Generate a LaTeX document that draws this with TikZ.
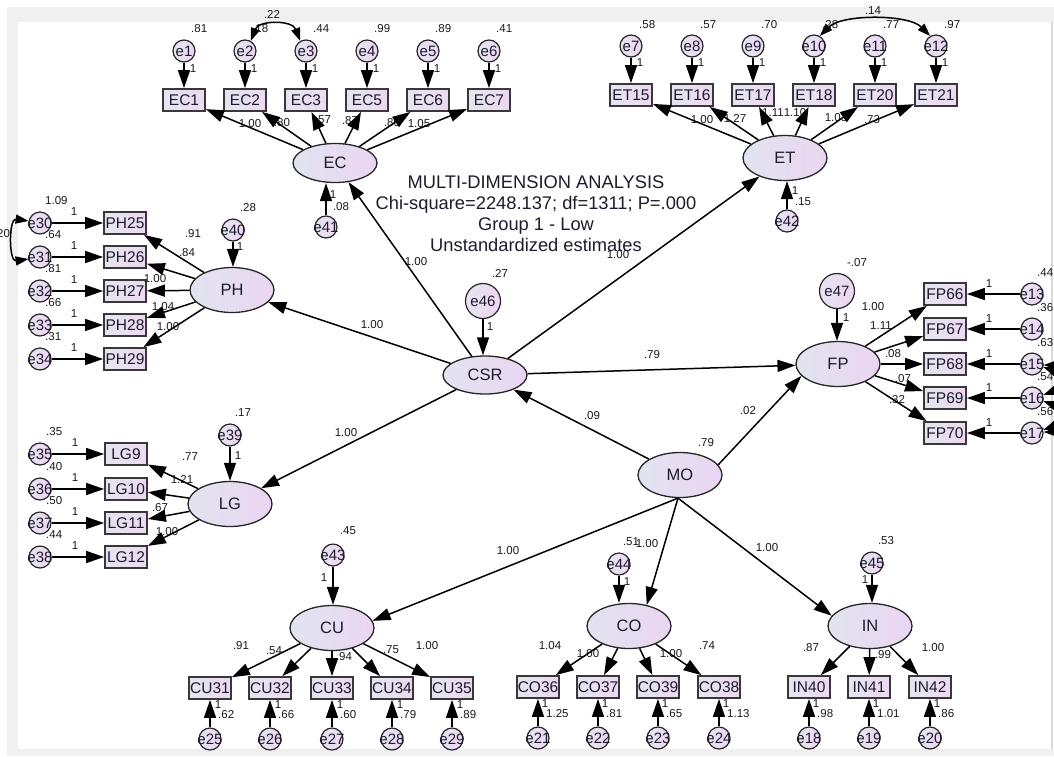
\documentclass[tikz,border=0pt]{standalone}
\usepackage{fontspec}
\setmainfont{Liberation Sans}
\usetikzlibrary{arrows.meta,shapes.geometric}
\definecolor{bandgray}{HTML}{F0F0F0}
\definecolor{latL}{HTML}{E1E4F0}
\definecolor{latR}{HTML}{EBD5F2}
\definecolor{boxL}{HTML}{E4E5F0}
\definecolor{boxR}{HTML}{EDD9F1}
\definecolor{errL}{HTML}{E6E4F2}
\definecolor{errR}{HTML}{EDD6F2}
\definecolor{ink}{HTML}{1C1C2C}
\tikzset{
  latent/.style={ellipse, draw=black!85, line width=1.3pt, left color=latL, right color=latR,
    minimum width=84pt, minimum height=45pt, inner sep=0pt, text=ink, font=\fontsize{16.5}{18}\selectfont},
  obs/.style={rectangle, draw=black!78, line width=1.8pt, left color=boxL, right color=boxR,
    minimum width=42pt, minimum height=22pt, inner sep=0pt, text=ink, font=\fontsize{15.5}{16}\selectfont},
  err/.style={circle, draw=black!85, line width=1.2pt, left color=errL, right color=errR,
    minimum size=22pt, inner sep=0pt, text=ink, font=\fontsize{15}{16}\selectfont},
  bigerr/.style={err, minimum size=35pt},
  num/.style={inner sep=0pt, text=black!90, font=\fontsize{11.5}{12}\selectfont},
  ttlstyle/.style={align=center, inner sep=0pt, text=ink, font=\fontsize{18.3}{21}\selectfont},
  reg/.style={draw=black, line width=1.5pt, -{Triangle[length=18pt,width=12pt]}},
  cov/.style={draw=black, line width=1.5pt, {Triangle[length=13pt,width=9pt]}-{Triangle[length=13pt,width=9pt]}},
}
\begin{document}
\begin{tikzpicture}[x=1pt,y=-1pt]
\useasboundingbox (0,0) rectangle (1054,756);
% window frame
\fill[bandgray] (7,7) rectangle (1054,22);
\fill[bandgray] (7,7) rectangle (18,749);
\fill[bandgray] (7,749) rectangle (1054,756);
\draw[black!15, line width=1.5pt] (1052,22) -- (1052,749);

% heading
\node[ttlstyle] (heading) at (536,213.5) {MULTI-DIMENSION ANALYSIS\\Chi-square=2248.137; df=1311; P=.000\\Group 1 - Low\\Unstandardized estimates};

% latent variables
\node[latent, minimum height=39pt] (EC) at (335,163) {EC};
\node[latent] (ET) at (785,158) {ET};
\node[latent] (PH) at (232,290) {PH};
\node[latent] (LG) at (230,504) {LG};
\node[latent, minimum height=38pt] (CSR) at (485,375) {CSR};
\node[latent] (FP) at (838,364) {FP};
\node[latent] (MO) at (680,475) {MO};
\node[latent] (CU) at (332,628) {CU};
\node[latent] (CO) at (629,626) {CO};
\node[latent] (IN) at (870,626) {IN};

% EC indicators
\foreach \k/\nm/\xx/\vv in {1/EC1/184/.81, 2/EC2/245/.18, 3/EC3/306/.44, 4/EC5/367/.99, 5/EC6/428/.89, 6/EC7/489/.41}{
  \node[num, anchor=west] (ve\k) at (\xx+7,29) {\vv};
  \node[num] (fe\k) at (\xx+9,69) {1};
  \node[err] (e\k) at (\xx,51) {\makebox[0pt]{e\k}};
  \node[obs] (\nm) at (\xx,100) {\nm};
  \draw[reg] (e\k) -- (\nm);
}
\foreach \xx/\yy/\tt [count=\i] in {250/124/1.00, 282/123/.80, 323/120/.57, 350/121/.87, 392/123/.80, 419/124/1.05}{
  \node[num] (lec\i) at (\xx,\yy) {\tt};
}
\foreach \nm in {EC1,EC2,EC3,EC5,EC6,EC7}{\draw[reg] (EC) -- (\nm);}

% ET indicators
\foreach \k/\nm/\xx/\vv in {7/ET15/631/.58, 8/ET16/692/.57, 9/ET17/753/.70, 10/ET18/814/.28, 11/ET20/875/.77, 12/ET21/936/.97}{
  \node[num, anchor=west] (ve\k) at (\xx+8,25) {\vv};
  \node[num] (fe\k) at (\xx+9,63) {1};
  \node[err] (e\k) at (\xx,46) {\makebox[0pt]{e\k}};
  \node[obs] (\nm) at (\xx,95) {\nm};
  \draw[reg] (e\k) -- (\nm);
}
\foreach \xx/\yy/\tt [count=\i] in {702/120/1.00, 735/118/1.27, 773/113/1.11, 795/113/1.10, 836/118/1.03, 872/120/.73}{
  \node[num] (let\i) at (\xx,\yy) {\tt};
}
\foreach \nm in {ET15,ET16,ET17,ET18,ET20,ET21}{\draw[reg] (ET) -- (\nm);}

% PH indicators
\foreach \k/\nm/\yy/\vv in {30/PH25/223/1.09, 31/PH26/257/.64, 32/PH27/291/.81, 33/PH28/325/.66, 34/PH29/359/.31}{
  \node[num, anchor=west] (ve\k) at (45,\yy-22) {\vv};
  \node[num] (fe\k) at (74,\yy-11) {1};
  \node[err] (e\k) at (40,\yy) {\makebox[0pt]{e\k}};
  \node[obs] (\nm) at (125,\yy) {\nm};
  \draw[reg] (e\k) -- (\nm);
}
\foreach \xx/\yy/\tt [count=\i] in {193/234/.91, 187/253/.84, 155/279/1.00, 163/307/1.04, 168/327/1.00}{
  \node[num] (lph\i) at (\xx,\yy) {\tt};
}
\foreach \nm in {PH25,PH26,PH27,PH28,PH29}{\draw[reg] (PH) -- (\nm);}

% LG indicators
\foreach \k/\nm/\yy/\vv in {35/LG9/454/.35, 36/LG10/489/.40, 37/LG11/523/.50, 38/LG12/557/.44}{
  \node[num, anchor=west] (ve\k) at (46,\yy-22) {\vv};
  \node[num] (fe\k) at (75,\yy-11) {1};
  \node[err] (e\k) at (40,\yy) {\makebox[0pt]{e\k}};
  \node[obs] (\nm) at (126,\yy) {\nm};
  \draw[reg] (e\k) -- (\nm);
}
\foreach \xx/\yy/\tt [count=\i] in {190/457/.77, 182/479/1.21, 160/508/.67, 167/532/1.00}{
  \node[num] (llg\i) at (\xx,\yy) {\tt};
}
\foreach \nm in {LG9,LG10,LG11,LG12}{\draw[reg] (LG) -- (\nm);}

% FP indicators
\foreach \k/\nm/\yy/\vv in {13/FP66/294/.44, 14/FP67/329/.36, 15/FP68/364/.63, 16/FP69/398/.54, 17/FP70/433/.56}{
  \node[num, anchor=west] (ve\k) at (1037,\yy-21) {\vv};
  \node[num] (fe\k) at (989,\yy-10) {1};
  \node[err] (e\k) at (1032,\yy) {\makebox[0pt]{e\k}};
  \node[obs] (\nm) at (945,\yy) {\nm};
  \draw[reg] (e\k) -- (\nm);
}
\foreach \xx/\yy/\tt [count=\i] in {873/307/1.00, 881/326/1.11, 893/354/.08, 903/379/.07, 897/400/.32}{
  \node[num] (lfp\i) at (\xx,\yy) {\tt};
}
\foreach \nm in {FP66,FP67,FP68,FP69,FP70}{\draw[reg] (FP) -- (\nm);}

% CU indicators
\foreach \k/\nm/\xx/\vv in {25/CU31/210/.62, 26/CU32/270/.66, 27/CU33/332/.60, 28/CU34/392/.79, 29/CU35/452/.89}{
  \node[num] (fe\k) at (\xx+8,705) {1};
  \node[num, anchor=west] (ve\k) at (\xx+8,715) {\vv};
  \node[obs] (\nm) at (\xx,688) {\nm};
  \node[err] (e\k) at (\xx,739) {\makebox[0pt]{e\k}};
  \draw[reg] (e\k) -- (\nm);
}
\foreach \xx/\yy/\tt [count=\i] in {241/646/.91, 274/651/.54, 344/657/.94, 391/650/.75, 427/646/1.00}{
  \node[num] (lcu\i) at (\xx,\yy) {\tt};
}
\foreach \nm in {CU31,CU32,CU33,CU34,CU35}{\draw[reg] (CU) -- (\nm);}

% CO indicators
\foreach \k/\nm/\xx/\vv in {21/CO36/538/1.25, 22/CO37/598/.81, 23/CO39/658/.65, 24/CO38/719/1.13}{
  \node[num] (fe\k) at (\xx+7,704) {1};
  \node[num, anchor=west] (ve\k) at (\xx+8,714) {\vv};
  \node[obs] (\nm) at (\xx,687) {\nm};
  \node[err] (e\k) at (\xx,738) {\makebox[0pt]{e\k}};
  \draw[reg] (e\k) -- (\nm);
}
\foreach \xx/\yy/\tt [count=\i] in {550/646/1.04, 588/654/1.00, 671/654/1.00, 707/646/.74}{
  \node[num] (lco\i) at (\xx,\yy) {\tt};
}
\foreach \nm in {CO36,CO37,CO39,CO38}{\draw[reg] (CO) -- (\nm);}

% IN indicators
\foreach \k/\nm/\xx/\vv in {18/IN40/809/.98, 19/IN41/869/1.01, 20/IN42/930/.86}{
  \node[num] (fe\k) at (\xx+7,704) {1};
  \node[num, anchor=west] (ve\k) at (\xx+8,714) {\vv};
  \node[obs] (\nm) at (\xx,687) {\nm};
  \node[err] (e\k) at (\xx,738) {\makebox[0pt]{e\k}};
  \draw[reg] (e\k) -- (\nm);
}
\foreach \xx/\yy/\tt [count=\i] in {811/648/.87, 883/655/.99, 933/648/1.00}{
  \node[num] (lin\i) at (\xx,\yy) {\tt};
}
\foreach \nm in {IN40,IN41,IN42}{\draw[reg] (IN) -- (\nm);}

% disturbances of the latent variables
\foreach \k/\xx/\yy/\lat/\vv/\vx/\vy/\ox/\oy in {
   40/233/230/PH/.28/248/208/240/247,
   39/230/435/LG/.17/243/413/238/456,
   41/326/227/EC/.08/341/207/333/195,
   42/787/221/ET/.15/803/202/795/191,
   43/333/555/CU/.45/348/531/324/578,
   44/619/564/CO/.51/631/542/627/582,
   45/872/563/IN/.53/886/541/865/580}{
  \node[num] (ve\k) at (\vx,\vy) {\vv};
  \node[num] (fe\k) at (\ox,\oy) {1};
  \node[err] (e\k) at (\xx,\yy) {\makebox[0pt]{e\k}};
}
\draw[reg] (e40.south) -- (e40.south |- PH.north);
\draw[reg] (e39.south) -- (e39.south |- LG.north);
\draw[reg] (e41.north) -- (e41.north |- EC.south);
\draw[reg] (e42.north) -- (e42.north |- ET.south);
\draw[reg] (e43.south) -- (e43.south |- CU.north);
\draw[reg] (e44.south) -- (e44.south |- CO.north);
\draw[reg] (e45.south) -- (e45.south |- IN.north);

\node[num] (ve46) at (500,273) {.27};
\node[num] (fe46) at (490,327) {1};
\node[bigerr] (e46) at (483,301) {\makebox[0pt]{e46}};
\draw[reg] (e46.south) -- (e46.south |- CSR.north);
\node[num] (ve47) at (857,263) {-.07};
\node[num] (fe47) at (846,318) {1};
\node[bigerr] (e47) at (837,291) {\makebox[0pt]{e47}};
\draw[reg] (e47.south) -- (e47.south |- FP.north);

% structural paths
\node[num] (pec) at (416,262) {1.00};
\node[num] (pet) at (618,255) {1.00};
\node[num] (pph) at (372,325) {1.00};
\node[num] (plg) at (346,433) {1.00};
\node[num] (pfp) at (652,355) {.79};
\node[num] (pmc) at (592,416) {.09};
\node[num] (pmf) at (748,411) {.02};
\node[num] (vmo) at (706,443) {.79};
\node[num] (pcu) at (508,551) {1.00};
\node[num] (pco) at (647,544) {1.00};
\node[num] (pin) at (767,548) {1.00};
\draw[reg] (CSR) -- (EC);
\draw[reg] (CSR) -- (ET);
\draw[reg] (CSR) -- (PH);
\draw[reg] (CSR) -- (LG);
\draw[reg] (CSR) -- (FP);
\draw[reg] (MO) -- (CSR);
\draw[reg] (MO.15) -- (FP.198);
\draw[reg] (MO.-95) -- (CU.10);
\draw[reg] (MO.-95) -- (CO.50);
\draw[reg] (MO.-95) -- (IN.165);

% covariances between error terms
\node[num] (c23) at (272,14) {.22};
\node[num] (c1012) at (873,11) {.14};
\node[num] (c3031) at (2,234) {.20};
\draw[cov] (e2.60) .. controls +(8,-21) and +(-8,-21) .. (e3.120);
\draw[cov] (e10.60) .. controls +(22,-22) and +(-22,-22) .. (e12.120);
\draw[cov] (e30.170) .. controls +(-20,-3) and +(-20,3) .. (e31.190);
\draw[cov] (e15.-15) .. controls +(16,6) and +(16,-6) .. (e16.15);
\draw[cov] (e16.-15) .. controls +(16,6) and +(16,-6) .. (e17.15);
\draw[cov] (e15.-5) .. controls +(30,0) and +(30,0) .. (e17.5);
\end{tikzpicture}
\end{document}
